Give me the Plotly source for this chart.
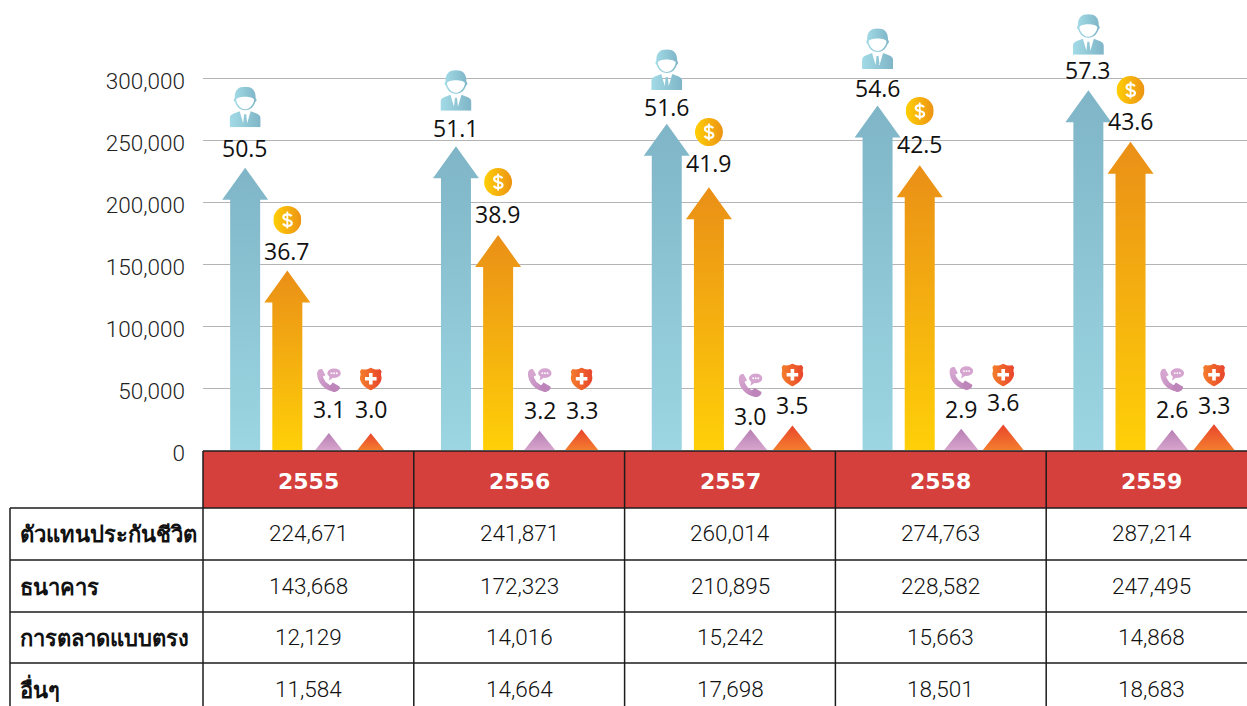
import base64
import plotly.graph_objects as go

# ---------- data ----------
years = ["2555", "2556", "2557", "2558", "2559"]
channels = ["ตัวแทนประกันชีวิต", "ธนาคาร", "การตลาดแบบตรง", "อื่นๆ"]
agents = [224671, 241871, 260014, 274763, 287214]
banks = [143668, 172323, 210895, 228582, 247495]
direct = [12129, 14016, 15242, 15663, 14868]
others = [11584, 14664, 17698, 18501, 18683]
agents_share = [50.5, 51.1, 51.6, 54.6, 57.3]
banks_share = [36.7, 38.9, 41.9, 42.5, 43.6]
direct_share = [3.1, 3.2, 3.0, 2.9, 2.6]
others_share = [3.0, 3.3, 3.5, 3.6, 3.3]
y_ticks = [0, 50000, 100000, 150000, 200000, 250000, 300000]

# ---------- layout constants ----------
W, H = 1247, 706
PLOT_L, BASE_Y = 203, 450
COL_W = 210.8
PX_PER_UNIT_Y = 62 / 50000
PX_PER_UNIT_X = COL_W
FONT = "Roboto, Lato, 'Open Sans', sans-serif"
BOLD = "'Open Sans', 'Noto Sans', sans-serif"
xu = lambda px: px / PX_PER_UNIT_X
yu = lambda px: px / PX_PER_UNIT_Y
xp = lambda px: (px - PLOT_L) / (W - PLOT_L)
yp = lambda px: (BASE_Y - px) / BASE_Y


def svg(body):
    return "data:image/svg+xml;base64," + base64.b64encode(body.encode()).decode()


PERSON = svg('''<svg xmlns="http://www.w3.org/2000/svg" viewBox="0 0 31 41" width="124" height="164">
<defs><linearGradient id="g" x1="0" x2="1" y1="0" y2="0"><stop offset="0" stop-color="#a2dbe6"/><stop offset="1" stop-color="#7fb5c7"/></linearGradient></defs>
<path d="M5 12 C5 3 9 0.5 15.5 0.5 C22 0.5 26 3 26 12 C27.5 13 27 15 25.5 16 C24 21 20 24 15.5 24 C11 24 7 21 5.5 16 C4 15 3.5 13 5 12 Z M6.5 13.5 C7 18 11 23 15.5 23 C20 23 24 18 24.5 13.5 C24 11.5 20 10.5 15.5 10.5 C11 10.5 7 11.5 6.5 13.5 Z" fill="url(#g)" fill-rule="evenodd"/>
<path d="M0 41 L0 32 C0 28 5 27 10 25 L13.5 37 L14.5 28 L16.5 28 L17.5 37 L21 25 C26 27 31 28 31 32 L31 41 Z" fill="url(#g)"/>
</svg>''')
COIN = svg('''<svg xmlns="http://www.w3.org/2000/svg" viewBox="0 0 28 28" width="112" height="112">
<defs><linearGradient id="g" x1="0" x2="1" y1="0" y2="0"><stop offset="0" stop-color="#ffcf05"/><stop offset="1" stop-color="#ec9314"/></linearGradient></defs>
<circle cx="14" cy="14" r="14" fill="url(#g)"/>
<path d="M18.2 10.3 C17.5 8.9 16 8.3 14 8.3 C11.5 8.3 10 9.5 10 11.2 C10 15 18.4 13 18.4 17 C18.4 18.8 16.6 19.9 14 19.9 C11.8 19.9 10.4 19 9.7 17.6" fill="none" stroke="#fff" stroke-width="2.2"/>
<path d="M14 5.5 V22.5" stroke="#fff" stroke-width="1.8"/>
</svg>''')
PHONE = svg('''<svg xmlns="http://www.w3.org/2000/svg" viewBox="0 0 25 25" width="100" height="100">
<defs><linearGradient id="g" x1="0" x2="1" y1="0" y2="1"><stop offset="0" stop-color="#d5a5d0"/><stop offset="1" stop-color="#bd85b9"/></linearGradient></defs>
<path d="M3 6 C3.5 14 9 20 18 22" fill="none" stroke="url(#g)" stroke-width="5.6" stroke-linecap="round"/>
<path d="M0.5 5 C0.5 2 3 0.5 5.5 1 L9 7.5 L4 10 Z" fill="#d5a5d0"/>
<path d="M13 19.5 L16.5 15 L24 19.5 C24 23 21 25 17 24.8 Z" fill="#bd85b9"/>
<ellipse cx="18" cy="5.3" rx="7" ry="5" fill="#d5a5d0"/>
<path d="M13.5 8 L12.5 13 L17 10 Z" fill="#d5a5d0"/>
<circle cx="15.3" cy="5.3" r="1" fill="#fff"/><circle cx="18" cy="5.3" r="1" fill="#fff"/><circle cx="20.7" cy="5.3" r="1" fill="#fff"/>
</svg>''')
SHIELD = svg('''<svg xmlns="http://www.w3.org/2000/svg" viewBox="0 0 22 23" width="88" height="92">
<defs><linearGradient id="g" x1="0" x2="1" y1="0" y2="0"><stop offset="0" stop-color="#f47e2c"/><stop offset="1" stop-color="#e8452c"/></linearGradient></defs>
<path d="M11 0 C14 2 17 2.5 20 1.5 L22 4 C21 6 21 8 22 10 C21.5 16 17 20 11 23 C5 20 0.5 16 0 10 C1 8 1 6 0 4 L2 1.5 C5 2.5 8 2 11 0 Z" fill="url(#g)"/>
<path d="M9.2 5.5 H12.8 V9.5 H16.8 V13 H12.8 V17 H9.2 V13 H5.2 V9.5 H9.2 Z" fill="#fff"/>
</svg>''')

series = [
    dict(vals=agents, share=agents_share, off=-0.30, tip_extra=3000, top="#7fb5c7", bottom="#9cd6e2",
         icon=PERSON, iw=31, ih=41,
         icon_up=[61, 56, 54.4, 57, 56], label_up=[19.7, 18.4, 16.9, 17.6, 20.1]),
    dict(vals=banks, share=banks_share, off=-0.10, tip_extra=1000, top="#ea8f17", bottom="#ffd008",
         icon=COIN, iw=28, ih=28,
         icon_up=[50.6, 53, 55.2, 54.3, 51.8], label_up=[19.6, 21, 24.2, 21.3, 20.8]),
    dict(vals=direct, share=direct_share, off=0.097, tip_extra=1500, top="#b77fb3", bottom="#d6a4cc",
         icon=PHONE, iw=24, ih=24,
         icon_up=[53, 50.7, 44, 50.7, 49.7], label_up=[24, 20.7, 13.5, 19.7, 20.7]),
    dict(vals=others, share=others_share, off=0.296, tip_extra=2000, top="#e8452c", bottom="#f47d2e",
         icon=SHIELD, iw=22, ih=23,
         icon_up=[54.2, 50.3, 50.6, 49.6, 49.4], label_up=[24.2, 19.3, 20.6, 22.9, 19.4]),
]

HEAD_H_PX, HEAD_HALF_PX, SHAFT_HALF_PX = 32, 23, 15
SMALL_SLOPE = 0.8

fig = go.Figure()
images, annotations, shapes = [], [], []

for s in series:
    for i, v in enumerate(s["vals"]):
        cx = i + s["off"]
        tip = v + s["tip_extra"]
        tip_px = tip * PX_PER_UNIT_Y
        if tip_px > HEAD_H_PX:
            neck = tip - yu(HEAD_H_PX)
            xs = [-SHAFT_HALF_PX, -SHAFT_HALF_PX, -HEAD_HALF_PX, 0, HEAD_HALF_PX, SHAFT_HALF_PX, SHAFT_HALF_PX]
            ys = [0, neck, neck, tip, neck, neck, 0]
        else:
            half = SMALL_SLOPE * tip_px
            xs = [-half, 0, half]
            ys = [0, tip, 0]
        fig.add_trace(go.Scatter(
            x=[cx + xu(p) for p in xs], y=ys, mode="lines", line=dict(width=0),
            fill="toself", hoverinfo="skip", showlegend=False,
            fillgradient=dict(type="vertical", colorscale=[[0, s["bottom"]], [1, s["top"]]]),
        ))
        annotations.append(dict(
            x=cx, y=tip, xref="x", yref="y", yshift=s["label_up"][i], text=f"{s['share'][i]:.1f}",
            showarrow=False, xanchor="center", yanchor="middle",
            font=dict(family=BOLD, size=23, color="#111", weight=500),
        ))
        images.append(dict(
            source=s["icon"], xref="x", yref="y", x=cx, y=tip + yu(s["icon_up"][i]),
            sizex=xu(s["iw"]), sizey=yu(s["ih"]), xanchor="center", yanchor="middle",
            sizing="stretch", layer="above",
        ))

# ---------- table ----------
COL_X = [PLOT_L + COL_W * i for i in range(6)]
ROW_Y = [508, 560, 612, 663, 706]
LINE = dict(color="#1c1c1c", width=1.5)
shapes.append(dict(type="rect", xref="paper", yref="paper", x0=0, x1=xp(W + 20), y0=yp(451), y1=yp(508),
                   fillcolor="#d53f3c", line=dict(width=0), layer="above"))
shapes.append(dict(type="line", xref="paper", yref="paper", x0=0, x1=xp(W + 20), y0=yp(451), y1=yp(451), line=LINE))
for py in ROW_Y[:-1]:
    shapes.append(dict(type="line", xref="paper", yref="paper", x0=xp(10), x1=xp(W + 20), y0=yp(py), y1=yp(py), line=LINE))
shapes.append(dict(type="line", xref="paper", yref="paper", x0=xp(10), x1=xp(10), y0=yp(508), y1=yp(H), line=LINE))
for cx in COL_X:
    shapes.append(dict(type="line", xref="paper", yref="paper", x0=xp(cx), x1=xp(cx), y0=yp(451), y1=yp(H), line=LINE))

for i, yr in enumerate(years):
    annotations.append(dict(x=xp(COL_X[i] + COL_W / 2), y=yp(481), xref="paper", yref="paper", text=f"<b>{yr}</b>",
                            showarrow=False, xanchor="center", yanchor="middle",
                            font=dict(family="'DejaVu Sans'", size=22, color="#fff")))
table_rows = [agents, banks, direct, others]
ROW_TEXT_Y = [533, 586, 637, 689]
for r, (name, row) in enumerate(zip(channels, table_rows)):
    cy = ROW_TEXT_Y[r]
    annotations.append(dict(x=xp(18), y=yp(cy), xref="paper", yref="paper", text=f"<b>{name}</b>", showarrow=False,
                            xanchor="left", yanchor="middle", font=dict(family=BOLD, size=22, color="#111")))
    for i, v in enumerate(row):
        annotations.append(dict(x=xp(COL_X[i] + COL_W / 2), y=yp(cy), xref="paper", yref="paper", text=f"{v:,}",
                                showarrow=False, xanchor="center", yanchor="middle",
                                font=dict(family=FONT, size=22.5, color="#111", weight=300)))

fig.update_layout(
    width=W, height=H, autosize=False,
    margin=dict(l=PLOT_L, r=0, t=0, b=H - BASE_Y),
    paper_bgcolor="#fff", plot_bgcolor="#fff",
    showlegend=False, hovermode=False,
    xaxis=dict(range=[-0.5, -0.5 + (W - PLOT_L) / COL_W], visible=False, fixedrange=True),
    yaxis=dict(range=[0, yu(BASE_Y)], tickvals=y_ticks, ticktext=[f"{t:,}" for t in y_ticks],
               showgrid=True, gridcolor="#b4b4b4", gridwidth=1, zeroline=False, showline=False,
               ticks="", ticklabelstandoff=17, ticklabelshift=3, fixedrange=True,
               tickfont=dict(family=FONT, size=22.5, color="#222", weight=300)),
    images=images, annotations=annotations, shapes=shapes,
)
fig.write_html("out.html", config=dict(displayModeBar=False),
               post_script="document.body.style.margin='0';document.documentElement.style.overflow='hidden';")
